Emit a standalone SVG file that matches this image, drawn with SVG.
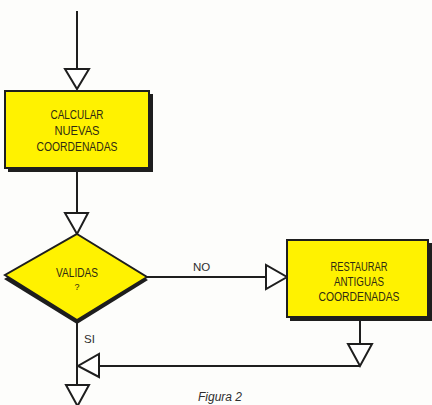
<svg xmlns="http://www.w3.org/2000/svg" width="432" height="405" viewBox="0 0 432 405">
<style>
.bg{fill:#fdfdfb}
.box{fill:#fff200;stroke:#1e1e1e;stroke-width:2}
.shadow{fill:#1e1e1e}
.line{stroke:#1e1e1e;stroke-width:2;fill:none}
.arrow{fill:#ffffff;stroke:#1e1e1e;stroke-width:2;stroke-linejoin:miter}
.t{font-family:"Liberation Sans",Arial,sans-serif;font-size:12.5px;fill:#2e2a12;text-anchor:middle}
.lbl{font-family:"Liberation Sans",Arial,sans-serif;font-size:11.5px;fill:#2e2e2e}
.cap{font-family:"Liberation Sans",Arial,sans-serif;font-size:12px;font-style:italic;fill:#2e2e2e}
</style>
<rect class="bg" x="0" y="0" width="432" height="405"/>
<g id="connectors">
<line class="line" x1="77" y1="11" x2="77" y2="70"/>
<polygon class="arrow" points="65,69 89,69 77,89"/>
<line class="line" x1="77" y1="170" x2="77" y2="214"/>
<polygon class="arrow" points="65,213 88,213 77,234"/>
<line class="line" x1="147" y1="277" x2="266" y2="277"/>
<polygon class="arrow" points="266,265 266,289 287,277"/>
<text class="lbl" x="193" y="271">NO</text>
<line class="line" x1="360" y1="320" x2="360" y2="345"/>
<polygon class="arrow" points="348,344 372,344 360,366"/>
<line class="line" x1="99" y1="366" x2="360" y2="366"/>
<polygon class="arrow" points="99,354 99,377 78,366"/>
<line class="line" x1="77" y1="320" x2="77" y2="386"/>
<text class="lbl" x="84" y="343">SI</text>
<polygon class="arrow" points="66,385 89,385 77.5,406"/>
</g>
<g id="node-calcular">
<rect class="shadow" x="8" y="94" width="145" height="78"/>
<rect class="box" x="5" y="91" width="144" height="77"/>
<text class="t" x="77" y="119" textLength="53" lengthAdjust="spacingAndGlyphs">CALCULAR</text>
<text class="t" x="77" y="135" textLength="45" lengthAdjust="spacingAndGlyphs">NUEVAS</text>
<text class="t" x="77" y="151" textLength="81" lengthAdjust="spacingAndGlyphs">COORDENADAS</text>
</g>
<g id="node-validas">
<polygon class="shadow" points="77,238 148,280 77,324 4,279"/>
<polygon class="box" points="77,234 147,277 77,320 5,275"/>
<text class="t" x="77" y="277" textLength="42" lengthAdjust="spacingAndGlyphs">VALIDAS</text>
<text class="t" x="77" y="290" style="font-size:9px">?</text>
</g>
<g id="node-restaurar">
<rect class="shadow" x="290" y="243" width="142" height="78"/>
<rect class="box" x="287" y="240" width="141" height="77"/>
<text class="t" x="359" y="271" textLength="57" lengthAdjust="spacingAndGlyphs">RESTAURAR</text>
<text class="t" x="359" y="286" textLength="50" lengthAdjust="spacingAndGlyphs">ANTIGUAS</text>
<text class="t" x="359" y="301" textLength="81" lengthAdjust="spacingAndGlyphs">COORDENADAS</text>
</g>
<text class="cap" x="198" y="401">Figura 2</text>
</svg>
